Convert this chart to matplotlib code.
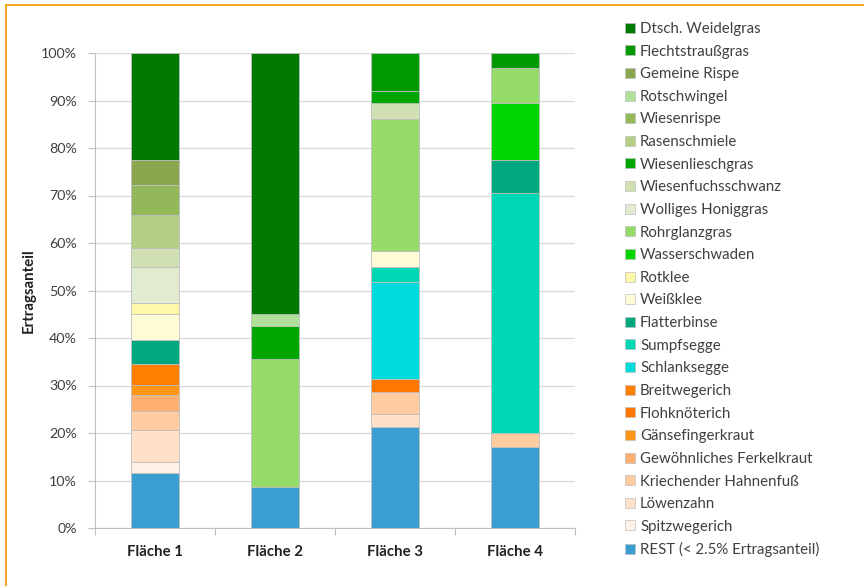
import matplotlib
matplotlib.use("Agg")
import matplotlib.pyplot as plt
from matplotlib.patches import Patch, Rectangle
import numpy as np

plt.rcParams['font.family'] = ['Lato', 'DejaVu Sans']

plots = ["Fläche 1", "Fläche 2", "Fläche 3", "Fläche 4"]

# species in stacking order (bottom to top)
species = [
    "REST (< 2.5% Ertragsanteil)", "Spitzwegerich", "Löwenzahn",
    "Kriechender Hahnenfuß", "Gewöhnliches Ferkelkraut", "Gänsefingerkraut",
    "Flohknöterich", "Breitwegerich", "Schlanksegge", "Sumpfsegge",
    "Flatterbinse", "Weißklee", "Rotklee", "Wasserschwaden", "Rohrglanzgras",
    "Wolliges Honiggras", "Wiesenfuchsschwanz", "Wiesenlieschgras",
    "Rasenschmiele", "Wiesenrispe", "Rotschwingel", "Gemeine Rispe",
    "Flechtstraußgras", "Dtsch. Weidelgras",
]

colors = [
    "#3A9FD0", "#FFF0E6", "#FFE0C8", "#FFCBA0", "#FFB070", "#FF9515",
    "#FF7700", "#FF8000", "#00DBDB", "#00D8B5", "#00A880", "#FFFDD8",
    "#FFF8A8", "#00D600", "#95DB6A", "#E0EBD0", "#D0E0B2", "#00A600",
    "#B3CF85", "#92B85A", "#B0E09A", "#8AA64E", "#009900", "#007A00",
]

# yield shares in percent, same order as `species`
flaeche_1 = [11.6, 2.4, 6.6, 4.0, 3.4, 2.2, 0.0, 4.3, 0.0, 0.0, 5.1, 5.4,
             2.4, 0.0, 0.0, 7.5, 4.1, 0.0, 6.8, 6.4, 0.0, 5.3, 0.0, 22.5]
flaeche_2 = [8.7, 0.0, 0.0, 0.0, 0.0, 0.0, 0.0, 0.0, 0.0, 0.0, 0.0, 0.0,
             0.0, 0.0, 26.9, 0.0, 0.0, 7.0, 0.0, 0.0, 2.4, 0.0, 0.0, 55.0]
flaeche_3 = [21.3, 0.0, 2.8, 4.6, 0.0, 0.0, 2.6, 0.0, 20.4, 3.3, 0.0, 3.3,
             0.0, 0.0, 27.9, 0.0, 3.2, 2.7, 0.0, 0.0, 0.0, 0.0, 7.9, 0.0]
flaeche_4 = [17.1, 0.0, 0.0, 3.0, 0.0, 0.0, 0.0, 0.0, 0.0, 50.4, 7.0, 0.0,
             0.0, 12.0, 7.3, 0.0, 0.0, 0.0, 0.0, 0.0, 0.0, 0.0, 3.2, 0.0]

values = np.array([flaeche_1, flaeche_2, flaeche_3, flaeche_4]).T

fig = plt.figure(figsize=(8.64, 5.86), dpi=100)
ax = fig.add_axes([95 / 864, 1 - 528 / 586, 480 / 864, 475 / 586])

x = np.arange(len(plots))
bottom = np.zeros(len(plots))
for name, col, vals in zip(species, colors, values):
    mask = vals > 0
    ax.bar(x[mask], vals[mask], bottom=bottom[mask], width=0.4, color=col,
           edgecolor="#BFBFBF", linewidth=0.6, zorder=3)
    bottom += vals

ax.set_xlim(-0.5, len(plots) - 0.5)
ax.set_ylim(0, 100)
ax.set_yticks(np.arange(0, 101, 10))
ax.set_yticklabels([f"{v}%" for v in range(0, 101, 10)], fontsize=10.3,
                   color="#404040")
ax.set_xticks(x)
ax.set_xticklabels(plots, fontsize=10.8, fontweight="bold", color="#202020")
ax.set_xticks(np.arange(-0.5, len(plots)), minor=True)
ax.tick_params(axis="x", which="major", length=0, pad=12)
ax.tick_params(axis="x", which="minor", length=5, color="#BFBFBF", width=0.8)
ax.tick_params(axis="y", length=5, color="#BFBFBF", width=0.8, pad=8)
ax.yaxis.grid(True, color="#D9D9D9", linewidth=0.9, zorder=0)
ax.set_axisbelow(True)
for side in ["top", "right"]:
    ax.spines[side].set_visible(False)
for side in ["left", "bottom"]:
    ax.spines[side].set_color("#BFBFBF")
    ax.spines[side].set_linewidth(0.8)

ax.set_ylabel("Ertragsanteil", fontsize=10.8, fontweight="bold",
              color="#202020", labelpad=4)

handles = [Patch(facecolor=c, edgecolor="#BFBFBF", linewidth=0.5, label=n)
           for n, c in zip(species, colors)][::-1]
fig.legend(handles=handles, loc="upper left",
           bbox_to_anchor=(619 / 864, 1 - 16 / 586),
           frameon=False, fontsize=10.8, handlelength=0.65, handleheight=0.65,
           handletextpad=0.35, labelspacing=0.575, borderaxespad=0,
           labelcolor="#404040")

# chart frame
fig.patches.append(Rectangle((6 / 864, -0.1), 2, 1 - 5 / 586 + 0.1,
                             transform=fig.transFigure, fill=False,
                             edgecolor="#F39C12", linewidth=1.3))

fig.savefig("out.png", dpi=100)
